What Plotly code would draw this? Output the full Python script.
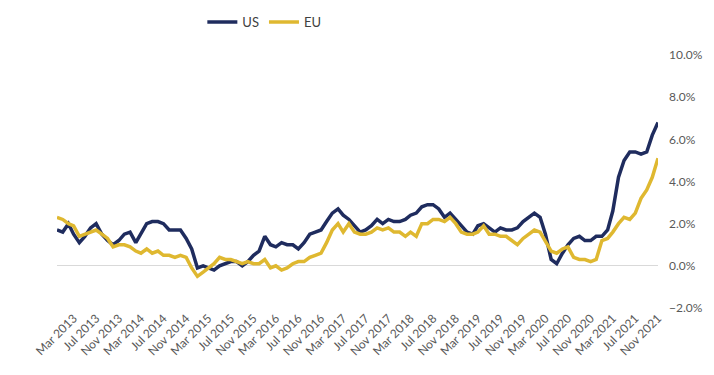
import pandas as pd
import plotly.graph_objects as go

# Monthly year-on-year inflation, Dec 2012 .. Nov 2021 (percent)
months = pd.date_range("2012-12-01", "2021-11-01", freq="MS")

us = [
    1.7,
    1.6, 2.0, 1.5, 1.1, 1.4, 1.8, 2.0, 1.5, 1.2, 1.0, 1.2, 1.5,
    1.6, 1.1, 1.5, 2.0, 2.1, 2.1, 2.0, 1.7, 1.7, 1.7, 1.3, 0.8,
    -0.1, 0.0, -0.1, -0.2, 0.0, 0.1, 0.2, 0.2, 0.0, 0.2, 0.5, 0.7,
    1.4, 1.0, 0.9, 1.1, 1.0, 1.0, 0.8, 1.1, 1.5, 1.6, 1.7, 2.1,
    2.5, 2.7, 2.4, 2.2, 1.9, 1.6, 1.7, 1.9, 2.2, 2.0, 2.2, 2.1,
    2.1, 2.2, 2.4, 2.5, 2.8, 2.9, 2.9, 2.7, 2.3, 2.5, 2.2, 1.9,
    1.6, 1.5, 1.9, 2.0, 1.8, 1.6, 1.8, 1.7, 1.7, 1.8, 2.1, 2.3,
    2.5, 2.3, 1.5, 0.3, 0.1, 0.6, 1.0, 1.3, 1.4, 1.2, 1.2, 1.4,
    1.4, 1.7, 2.6, 4.2, 5.0, 5.4, 5.4, 5.3, 5.4, 6.2, 6.8,
]

eu = [
    2.3,
    2.2, 2.0, 1.9, 1.4, 1.5, 1.6, 1.7, 1.5, 1.3, 0.9, 1.0, 1.0,
    0.9, 0.7, 0.6, 0.8, 0.6, 0.7, 0.5, 0.5, 0.4, 0.5, 0.4, -0.1,
    -0.5, -0.3, -0.1, 0.1, 0.4, 0.3, 0.3, 0.2, 0.1, 0.2, 0.1, 0.1,
    0.3, -0.1, 0.0, -0.2, -0.1, 0.1, 0.2, 0.2, 0.4, 0.5, 0.6, 1.1,
    1.7, 2.0, 1.6, 2.0, 1.6, 1.5, 1.5, 1.6, 1.8, 1.7, 1.8, 1.6,
    1.6, 1.4, 1.6, 1.4, 2.0, 2.0, 2.2, 2.2, 2.1, 2.3, 2.0, 1.6,
    1.5, 1.5, 1.6, 1.9, 1.5, 1.5, 1.4, 1.4, 1.2, 1.0, 1.3, 1.5,
    1.7, 1.6, 1.2, 0.7, 0.6, 0.8, 0.9, 0.4, 0.3, 0.3, 0.2, 0.3,
    1.2, 1.3, 1.6, 2.0, 2.3, 2.2, 2.5, 3.2, 3.6, 4.2, 5.1,
]

series_names = ["US", "EU"]
series_colors = ["#1F2C5E", "#DFB830"]

FONT = "Lato, 'Open Sans', sans-serif"

fig = go.Figure()
for name, vals, col in zip(series_names, [us, eu], series_colors):
    fig.add_trace(go.Scatter(
        x=months, y=vals, mode="lines", name=name,
        line=dict(color=col, width=3.5),
    ))

fig.update_layout(
    width=714, height=375,
    margin=dict(l=57, r=56, t=55, b=67, autoexpand=False),
    paper_bgcolor="white", plot_bgcolor="white",
    font=dict(family=FONT, color="#595959"),
    legend=dict(
        orientation="h", x=0.345, xanchor="center", y=1.13, yanchor="middle",
        font=dict(size=13, color="#404040"), itemwidth=30,
    ),
    xaxis=dict(
        type="date", automargin=False,
        range=["2012-12-01", "2021-11-01"],
        tickmode="linear", tick0="2013-03-01", dtick="M4",
        tickformat="%b %Y", tickangle=-45,
        tickfont=dict(size=12, color="#595959"),
        showgrid=False, zeroline=False, showline=False,
    ),
    yaxis=dict(
        side="right", range=[-2, 10], dtick=2, tick0=0, automargin=False,
        tickformat=".1f", ticksuffix="%",
        tickfont=dict(size=12, color="#595959"),
        showgrid=False, zeroline=True, zerolinecolor="#D9D9D9", zerolinewidth=1,
        showline=False, ticklabelstandoff=10,
    ),
)

fig.write_html(
    "out.html",
    config={"displayModeBar": False},
    post_script="document.body.style.margin='0';document.body.style.overflow='hidden';",
)
